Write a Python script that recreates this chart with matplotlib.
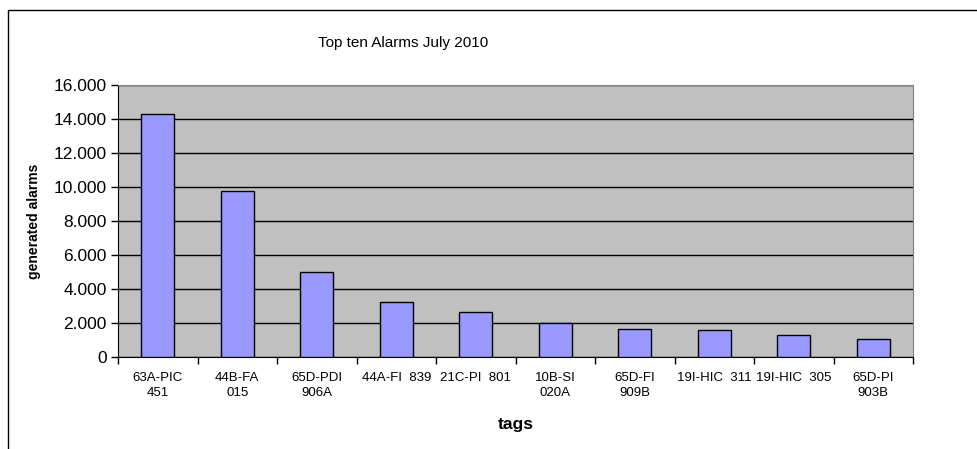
import matplotlib.pyplot as plt
import matplotlib as mpl
from matplotlib.ticker import FuncFormatter, MultipleLocator
from matplotlib.patches import Rectangle
import numpy as np

mpl.rcParams['font.family'] = ['Liberation Sans', 'DejaVu Sans']

tags = ['63A-PIC\n451', '44B-FA\n015', '65D-PDI\n906A', '44A-FI  839', '21C-PI  801',
        '10B-SI\n020A', '65D-FI\n909B', '19I-HIC  311', '19I-HIC  305', '65D-PI\n903B']
alarms = [14280, 9750, 5020, 3250, 2630, 1980, 1630, 1570, 1275, 1040]

fig = plt.figure(figsize=(9.77, 4.49), dpi=100)
ax = fig.add_axes([0.1208, 0.2049, 0.8137, 0.6058])

x = np.arange(len(tags))
ax.set_facecolor('#C0C0C0')
ax.bar(x, alarms, width=0.41, color='#9999FF', edgecolor='black', linewidth=1.0, zorder=3)

ax.set_xlim(-0.5, len(tags) - 0.5)
ax.set_ylim(0, 16000)
ax.yaxis.set_major_locator(MultipleLocator(2000))
ax.yaxis.set_major_formatter(FuncFormatter(lambda v, p: f'{int(v):,}'.replace(',', '.')))
ax.grid(axis='y', color='black', linewidth=1.0, zorder=1)
ax.set_axisbelow(True)

# category labels centred, tick marks between categories
ax.set_xticks(x)
ax.set_xticklabels(tags, fontsize=9.5, linespacing=1.35)
ax.tick_params(axis='x', which='major', length=0, pad=11)
ax.set_xticks(np.arange(-0.5, len(tags)), minor=True)
ax.tick_params(axis='x', which='minor', length=5, width=1, direction='out')
ax.tick_params(axis='y', length=5, width=1, direction='out', labelsize=12.5, pad=3)

for side in ['top', 'right']:
    ax.spines[side].set_color('#808080')
for side in ['left', 'bottom']:
    ax.spines[side].set_color('black')

ax.set_ylabel('generated alarms', fontsize=10, fontweight='bold', labelpad=9)
ax.set_xlabel('tags', fontsize=12.5, fontweight='bold', labelpad=13)
fig.text(403 / 977, 1 - 43 / 449, 'Top ten Alarms July 2010', fontsize=11,
         ha='center', va='center')

# chart area border
fig.patches.append(Rectangle((8 / 977, -0.1), 1.2, 1.1 - 10 / 449, transform=fig.transFigure,
                             fill=False, edgecolor='black', linewidth=1.0))

fig.savefig('out.png', dpi=100)
